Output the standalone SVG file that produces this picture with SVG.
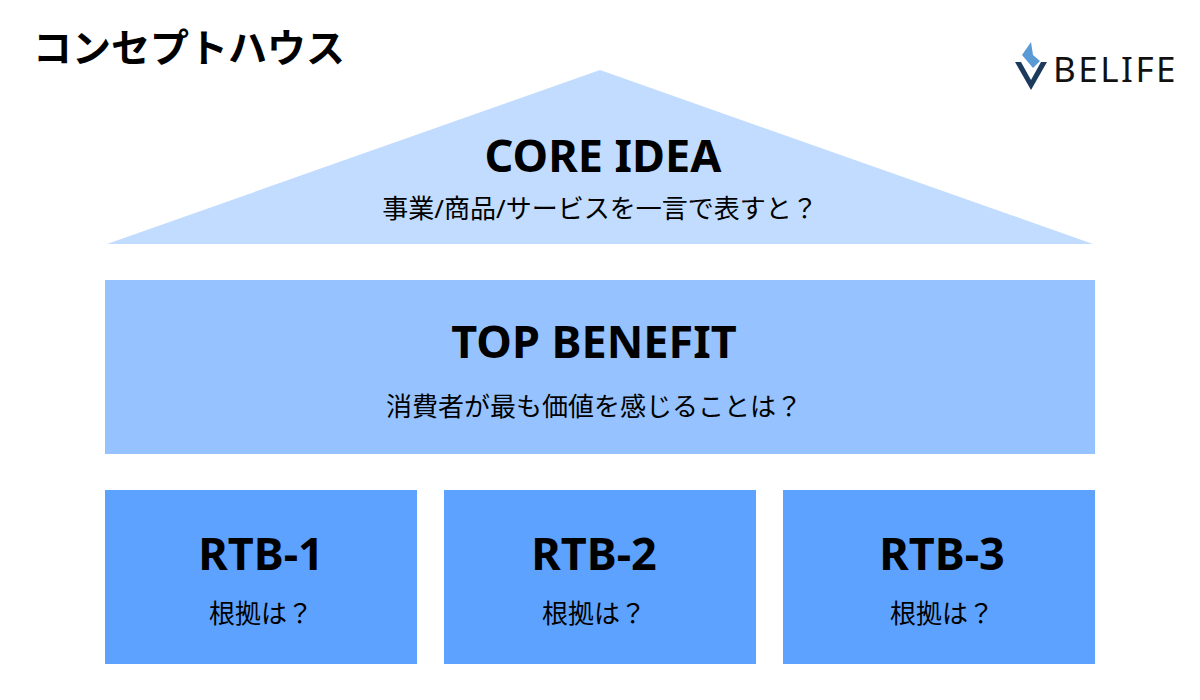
<svg xmlns="http://www.w3.org/2000/svg" width="1200" height="700" viewBox="0 0 1200 700">
<style>
.t{font-family:"Noto Sans","Noto Sans CJK JP",sans-serif;fill:#000;text-anchor:middle}
.h{font-size:45px;font-weight:bold}
.s{font-size:26px}
</style>
<rect width="1200" height="700" fill="#fff"/>
<text x="33" y="62" font-family="Noto Sans CJK JP,sans-serif" font-size="39" font-weight="bold">コンセプトハウス</text>
<g id="logo">
<path d="M1031 42 L1022 55 L1033 68 L1040 61 L1033 55 Z" fill="#5b9bd5"/>
<path d="M1015 62 L1031 90 L1047 62 L1041 62 L1031 80 L1021 62 Z" fill="#1b3a5c"/>
<text x="1053" y="82" font-family="Noto Sans,sans-serif" font-size="35" fill="#111" letter-spacing="2.5">BELIFE</text>
</g>
<g id="core">
<polygon points="600,70 1093,244 107,244" fill="#c2dcff"/>
<text class="t h" x="603" y="172">CORE IDEA</text>
<text class="t s" x="600" y="218">事業/商品/サービスを一言で表すと？</text>
</g>
<g id="top">
<rect x="105" y="280" width="990" height="174" fill="#96c3ff"/>
<text class="t h" x="594" y="358">TOP BENEFIT</text>
<text class="t s" x="594" y="416">消費者が最も価値を感じることは？</text>
</g>
<g id="rtb1">
<rect x="105" y="490" width="312" height="174" fill="#5ea2ff"/>
<text class="t h" x="261" y="570">RTB-1</text>
<text class="t s" x="261" y="623">根拠は？</text>
</g>
<g id="rtb2">
<rect x="444" y="490" width="312" height="174" fill="#5ea2ff"/>
<text class="t h" x="594" y="570">RTB-2</text>
<text class="t s" x="594" y="623">根拠は？</text>
</g>
<g id="rtb3">
<rect x="783" y="490" width="312" height="174" fill="#5ea2ff"/>
<text class="t h" x="942" y="570">RTB-3</text>
<text class="t s" x="942" y="623">根拠は？</text>
</g>
<g id="connectors"/>
</svg>
